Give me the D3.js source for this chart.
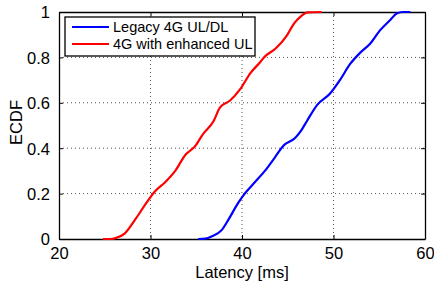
<!DOCTYPE html>
<html lang="en">
<head>
    <meta charset="UTF-8">
    <title>ECDF latency</title>
    <style type="text/css">
        * { margin: 0; padding: 0; }
        body { background: white; }
        text { font-family: "Liberation Sans", Arial, sans-serif; fill: black; }
    </style>
</head>
<body>
<div id="chart-area"></div>
<script src="https://cdn.jsdelivr.net/npm/d3@7/dist/d3.min.js"></script>
<script type="text/javascript">
    const seriesNames = ['Legacy 4G UL/DL', '4G with enhanced UL']
    const seriesColors = ['#0000ff', '#ff0000']

    // latency [ms] and ECDF values
    const legacyX = [35.2, 36.0, 36.7, 37.8, 38.5, 39.6, 40.3, 41.4, 42.5, 43.6, 44.5, 45.8, 46.5, 47.1, 48.2, 49.6, 50.7, 51.8, 52.9, 54.0, 55.1, 56.2, 56.9, 57.6, 58.4]
    const legacyY = [0, 0.002, 0.012, 0.04, 0.084, 0.16, 0.20, 0.25, 0.30, 0.36, 0.41, 0.445, 0.48, 0.52, 0.59, 0.64, 0.70, 0.77, 0.82, 0.86, 0.92, 0.965, 0.993, 1, 1]
    const enhancedX = [24.8, 25.6, 26.1, 27.2, 28.3, 29.4, 30.5, 31.6, 32.7, 33.8, 34.9, 35.7, 36.9, 37.6, 38.7, 39.8, 40.9, 42.0, 42.4, 43.7, 44.8, 45.7, 46.4, 47.2, 48.7]
    const enhancedY = [0, 0, 0.003, 0.025, 0.084, 0.15, 0.21, 0.25, 0.30, 0.37, 0.41, 0.46, 0.52, 0.58, 0.61, 0.66, 0.73, 0.78, 0.80, 0.84, 0.89, 0.95, 0.98, 0.998, 1]

    const xTicks = [20, 30, 40, 50, 60]
    const yTicks = [0, 0.2, 0.4, 0.6, 0.8, 1]

    const W = 434, H = 282
    const margin = {left: 59, right: 9, top: 12, bottom: 43}
    const innerW = W - margin.left - margin.right
    const innerH = H - margin.top - margin.bottom

    const svg = d3.select('#chart-area').append('svg')
    .attr('width', W)
    .attr('height', H)
    .style('background-color', 'white')

    const g = svg.append('g').attr('transform', `translate(${margin.left},${margin.top})`)

    const x = d3.scaleLinear().domain([20, 60]).range([0, innerW])
    const y = d3.scaleLinear().domain([0, 1]).range([innerH, 0])

    // dotted grid
    g.append('g').selectAll('line').data(xTicks.slice(1, -1)).enter().append('line')
    .attr('x1', d => x(d)).attr('x2', d => x(d))
    .attr('y1', 0).attr('y2', innerH)
    .attr('stroke', '#555').attr('stroke-width', 1).attr('stroke-dasharray', '1,3')
    g.append('g').selectAll('line').data(yTicks.slice(1, -1)).enter().append('line')
    .attr('y1', d => y(d)).attr('y2', d => y(d))
    .attr('x1', 0).attr('x2', innerW)
    .attr('stroke', '#555').attr('stroke-width', 1).attr('stroke-dasharray', '1,3')

    // axes with inward ticks on all sides
    const fmt = d => d === 0 || d === 1 ? String(d) : d3.format('.1f')(d)
    const bottomAxis = g.append('g').attr('transform', `translate(0,${innerH})`)
    .call(d3.axisBottom(x).tickValues(xTicks).tickSizeInner(-4).tickSizeOuter(0).tickPadding(8))
    const leftAxis = g.append('g')
    .call(d3.axisLeft(y).tickValues(yTicks).tickFormat(fmt).tickSizeInner(-4).tickSizeOuter(0).tickPadding(9))
    const topAxis = g.append('g')
    .call(d3.axisTop(x).tickValues(xTicks).tickSizeInner(-4).tickSizeOuter(0).tickFormat(''))
    const rightAxis = g.append('g').attr('transform', `translate(${innerW},0)`)
    .call(d3.axisRight(y).tickValues(yTicks).tickSizeInner(-4).tickSizeOuter(0).tickFormat(''))

    for (const a of [bottomAxis, leftAxis, topAxis, rightAxis]) {
      a.select('.domain').attr('stroke', 'black').attr('stroke-width', 1.3)
      a.selectAll('.tick line').attr('stroke', 'black')
      a.selectAll('text').style('font-size', '16.5px').attr('fill', 'black')
        .style('font-family', '"Liberation Sans", Arial, sans-serif')
    }
    bottomAxis.selectAll('text').attr('dy', '0.71em')
    leftAxis.selectAll('text').attr('dy', '0.36em')

    // curves
    const lineGen = d3.line().x(d => x(d[0])).y(d => y(d[1])).curve(d3.curveMonotoneX)

    const series = [d3.zip(legacyX, legacyY), d3.zip(enhancedX, enhancedY)]
    g.selectAll('path.curve').data(series).enter().append('path')
    .attr('class', 'curve')
    .attr('d', lineGen)
    .attr('fill', 'none')
    .attr('stroke', (d, i) => seriesColors[i])
    .attr('stroke-width', 2.2)
    .attr('stroke-linejoin', 'round')

    // axis labels
    svg.append('text')
    .attr('x', margin.left + innerW / 2)
    .attr('y', 277.5)
    .attr('text-anchor', 'middle')
    .style('font-size', '16.5px')
    .text('Latency [ms]')

    svg.append('text')
    .attr('transform', `translate(22,${margin.top + innerH / 2 - 3}) rotate(-90)`)
    .attr('text-anchor', 'middle')
    .style('font-size', '16.5px')
    .text('ECDF')

    // legend
    const leg = svg.append('g').attr('transform', 'translate(65,17)')
    leg.append('rect')
    .attr('width', 190).attr('height', 39)
    .attr('fill', 'white').attr('stroke', 'black').attr('stroke-width', 1.3)
    const items = leg.selectAll('g.item').data(seriesNames).enter().append('g')
    .attr('class', 'item')
    .attr('transform', (d, i) => `translate(0,${10 + i * 17})`)
    items.append('line')
    .attr('x1', 7).attr('x2', 44)
    .attr('stroke', (d, i) => seriesColors[i]).attr('stroke-width', 2.2)
    items.append('text')
    .attr('x', 48).attr('dy', '0.36em')
    .style('font-size', '14.5px')
    .text(d => d)
</script>
</body>
</html>
